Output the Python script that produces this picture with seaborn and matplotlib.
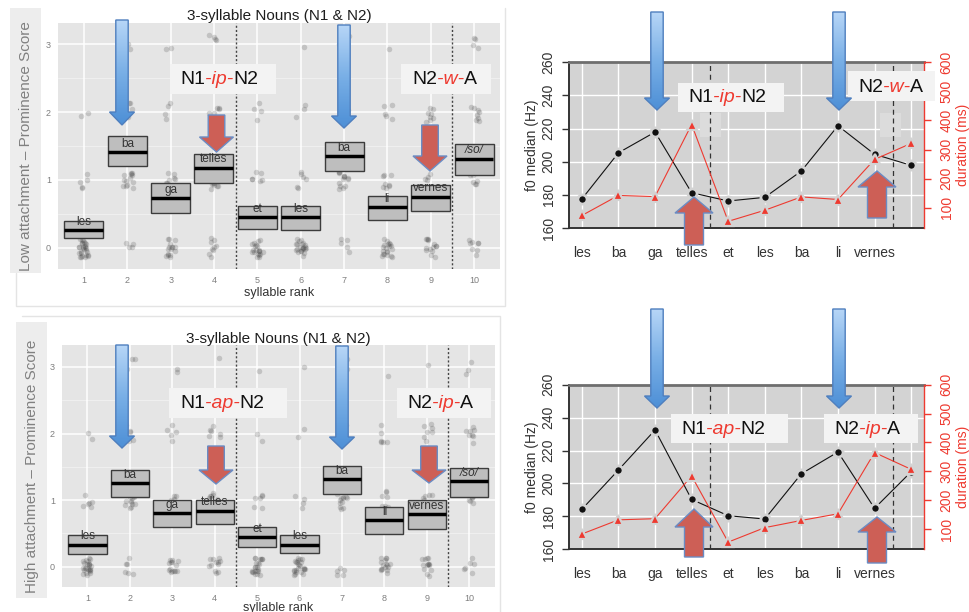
import numpy as np
import pandas as pd
import matplotlib
matplotlib.use("Agg")
import matplotlib.pyplot as plt
from matplotlib.patches import Polygon, Rectangle
from matplotlib.colors import LinearSegmentedColormap
from matplotlib import font_manager
import seaborn as sns

# ---------------- data ----------------
ranks = [1, 2, 3, 4, 5, 6, 7, 8, 9, 10]
syllables = ["les", "ba", "ga", "telles", "et", "les", "ba", "li", "vernes", "/so/"]
f0_labels = ["les", "ba", "ga", "telles", "et", "les", "ba", "li", "vernes", ""]

# prominence score crossbars (mean and interval), low attachment
low_mean = [0.26, 1.41, 0.73, 1.18, 0.45, 0.45, 1.35, 0.60, 0.75, 1.31]
low_lo = [0.14, 1.20, 0.52, 0.96, 0.28, 0.27, 1.13, 0.41, 0.55, 1.07]
low_hi = [0.40, 1.65, 0.96, 1.38, 0.61, 0.62, 1.56, 0.77, 0.92, 1.53]
# high attachment
high_mean = [0.33, 1.25, 0.80, 0.84, 0.44, 0.33, 1.31, 0.70, 0.79, 1.28]
high_lo = [0.19, 1.04, 0.59, 0.64, 0.29, 0.21, 1.09, 0.49, 0.57, 1.05]
high_hi = [0.47, 1.45, 1.00, 1.00, 0.60, 0.47, 1.52, 0.90, 1.00, 1.48]

# how many listeners gave score 0 / 1 / 2 / 3 for each syllable
low_n0 = [28, 4, 16, 9, 20, 22, 5, 20, 14, 8]
low_n1 = [5, 13, 8, 10, 6, 6, 14, 8, 6, 10]
low_n2 = [2, 8, 4, 7, 4, 3, 8, 5, 8, 8]
low_n3 = [0, 4, 2, 4, 0, 1, 4, 1, 0, 4]
high_n0 = [24, 6, 14, 12, 22, 24, 5, 16, 14, 6]
high_n1 = [6, 14, 8, 8, 6, 4, 14, 7, 6, 10]
high_n2 = [2, 6, 5, 6, 2, 2, 6, 6, 7, 8]
high_n3 = [0, 3, 2, 1, 1, 1, 4, 1, 1, 3]

# f0 median (Hz) and duration (ms)
low_f0 = [177.5, 205.4, 217.9, 181.3, 176.3, 178.5, 194.4, 221.7, 204.5, 197.8]
low_dur = [73, 142, 138, 386, 53, 91, 137, 128, 266, 321]
high_f0 = [184.3, 208.2, 232.5, 190.3, 180.4, 178.4, 205.9, 219.1, 184.9, 207.1]
high_dur = [83, 132, 136, 284, 55, 105, 130, 153, 365, 307]

# ---------------- style ----------------
sns.set_style("white")
plt.rcParams["font.family"] = ["Liberation Sans", "DejaVu Sans"]
names = {f.name for f in font_manager.fontManager.ttflist}
NARROW = "Liberation Sans Narrow" if "Liberation Sans Narrow" in names else "Liberation Sans"
RSIZE = 11 if NARROW.endswith("Narrow") else 10
RED = "#ee3a30"
np.random.seed(3)  # stable jitter

W, H = 970, 612
fig = plt.figure(figsize=(9.7, 6.12), dpi=100)
fig.patch.set_facecolor("white")


def px_axes(l, t, r, b, **kw):
    return fig.add_axes([l / W, 1 - b / H, (r - l) / W, (b - t) / H], **kw)


def score_frame(n0, n1, n2, n3):
    parts = []
    for score, counts in enumerate([n0, n1, n2, n3]):
        parts.append(pd.DataFrame({"rank": np.repeat(ranks, counts), "score": score}))
    return pd.concat(parts, ignore_index=True)


# background layer (label strips, card borders)
bg = fig.add_axes([0, 0, 1, 1], zorder=-1)
bg.set_xlim(0, W)
bg.set_ylim(H, 0)
bg.axis("off")
bg.add_patch(Rectangle((10, 8), 31, 265, fc="#ededed", ec="none"))
bg.add_patch(Rectangle((16, 322), 31, 276, fc="#ededed", ec="none"))
bg.plot([16, 16, 505, 505], [273, 306, 306, 8], color="#e4e4e4", lw=1)
bg.plot([22, 500, 500], [316, 316, 612], color="#e4e4e4", lw=1)


def prominence_panel(ax, df, lo, mean, hi, ylim, ylabel, label_x, title_y, xlab_y):
    ax.set_facecolor("#e5e5e5")
    for y in [0.5, 1.5, 2.5]:
        ax.axhline(y, color="#f2f2f2", lw=0.6, zorder=0.3)
    # jittered listener scores (display jitter only, like geom_jitter)
    sns.regplot(data=df, x="rank", y="score", fit_reg=False, x_jitter=0.13, y_jitter=0.14,
                scatter_kws=dict(s=16, alpha=0.2, color="#3a3a3a", linewidths=0, zorder=2),
                ax=ax)
    lo, mean, hi = np.array(lo), np.array(mean), np.array(hi)
    x = np.array(ranks)
    ax.bar(x, hi - lo, bottom=lo, width=0.9, color="#bebebe", edgecolor="#3c3c3c",
           lw=1, zorder=3)
    ax.hlines(mean, x - 0.45, x + 0.45, color="black", lw=2.5, zorder=4)
    for r, m, s in zip(ranks, mean, syllables):
        ax.text(r, m + 0.125, s, ha="center", va="center", fontsize=8.5, color="#333333",
                style="italic" if s.startswith("/") else "normal", zorder=5)
    for xv in [4.5, 9.5]:
        ax.axvline(xv, color="#444444", lw=1, ls=(0, (1.5, 1.5)), zorder=4)
    ax.set_xlim(0.4, 10.6)
    ax.set_ylim(*ylim)
    ax.set_xticks(ranks, [str(r) for r in ranks])
    ax.set_yticks([0, 1, 2, 3])
    ax.grid(True, color="white", lw=1.1)
    ax.set_axisbelow(True)
    for s in ax.spines.values():
        s.set_visible(False)
    ax.tick_params(length=3, width=0.8, color="#8a8a8a", labelcolor="#7f7f7f",
                   labelsize=6.5, pad=2)
    ax.set_ylabel(ylabel, fontsize=11, color="#808080")
    ax.yaxis.set_label_coords(label_x, 0.5)
    ax.yaxis.label.set_va("center")
    ax.set_xlabel("syllable rank", fontsize=9, color="#333333")
    ax.xaxis.set_label_coords(0.5, xlab_y)
    ax.xaxis.label.set_va("center")
    ax.text(0.5, title_y, "3-syllable Nouns (N1 & N2)", transform=ax.transAxes,
            ha="center", va="center", fontsize=11, color="#1e1e1e")


def f0_panel(ax, f0, dur):
    ax.set_facecolor("#d3d3d3")
    sns.lineplot(x=ranks, y=f0, ax=ax, color="#111111", lw=0.8, marker="o",
                 markersize=6.6, markeredgecolor="#d3d3d3", markeredgewidth=2.0, zorder=4)
    for xv in [4.5, 9.5]:
        ax.axvline(xv, color="#333333", lw=0.9, ls=(0, (4, 3)), zorder=2)
    ax.set_xlim(0.64, 10.36)
    ax.set_ylim(160, 260)
    ax.set_xticks(ranks, f0_labels)
    ax.set_yticks([160, 180, 200, 220, 240, 260])
    ax.grid(True, color="white", lw=1)
    ax.set_axisbelow(True)
    ax.tick_params(axis="x", length=5, width=1, color="#333333", pad=8,
                   labelsize=RSIZE, labelcolor="#333333")
    ax.tick_params(axis="y", length=5, width=1, color="#333333", pad=4.5,
                   labelsize=RSIZE, labelcolor="#333333", labelrotation=90)
    for lbl in ax.get_xticklabels() + ax.get_yticklabels():
        lbl.set_fontfamily(NARROW)
    for lbl in ax.get_yticklabels():
        lbl.set_va("center")
    for s in ["left", "bottom"]:
        ax.spines[s].set(color="#333333", lw=1.4)
    ax.spines["top"].set(color="#6e6e6e", lw=2)
    ax.spines["right"].set_visible(False)
    ax.set_ylabel("f0 median (Hz)", fontsize=RSIZE, color="#333333", family=NARROW)
    ax.yaxis.set_label_coords(-0.104, 0.5)
    ax.yaxis.label.set_va("center")

    ax2 = ax.twinx()
    sns.lineplot(x=ranks, y=dur, ax=ax2, color=RED, lw=0.8, marker="^",
                 markersize=7.6, markeredgecolor="#d3d3d3", markeredgewidth=1.6, zorder=4)
    ax2.set_ylim(30, 600)
    ax2.set_yticks([100, 200, 300, 400, 500, 600])
    ax2.grid(False)
    for s in ["left", "top", "bottom"]:
        ax2.spines[s].set_visible(False)
    ax2.spines["right"].set(visible=True, color=RED, lw=1)
    ax2.tick_params(axis="y", length=5, width=1, color=RED, labelcolor=RED, pad=6,
                    labelsize=RSIZE, labelrotation=90)
    for lbl in ax2.get_yticklabels():
        lbl.set_fontfamily(NARROW)
        lbl.set_va("center")
    ax2.set_ylabel("duration (ms)", fontsize=RSIZE, color=RED, family=NARROW, rotation=90)
    ax2.yaxis.set_label_coords(1.108, 0.5)
    ax2.yaxis.label.set_va("center")
    return ax2


ax_tl = px_axes(58, 23, 500, 269)
prominence_panel(ax_tl, score_frame(low_n0, low_n1, low_n2, low_n3),
                 low_lo, low_mean, low_hi, (-0.31, 3.31),
                 "Low attachment \u2013 Prominence Score", -0.0724, 1.028, -0.096)

ax_bl = px_axes(62, 345, 494.7, 586.7)
prominence_panel(ax_bl, score_frame(high_n0, high_n1, high_n2, high_n3),
                 high_lo, high_mean, high_hi, (-0.30, 3.33),
                 "High attachment \u2013 Prominence Score", -0.070, 1.025, -0.087)

ax_tr = px_axes(568.7, 62.3, 924.3, 228)
f0_panel(ax_tr, low_f0, low_dur)
ax_br = px_axes(568.7, 384.7, 924.3, 549.3)
f0_panel(ax_br, high_f0, high_dur)

# ---------------- overlay: arrows and boundary labels ----------------
ov = fig.add_axes([0, 0, 1, 1], zorder=10)
ov.patch.set_alpha(0)

# pale patches left in the f0 plot
for x0 in [700, 880]:
    ax_tr.add_patch(Rectangle((x0, 113), 21, 24, transform=ov.transData,
                              fc="#dcdcdc", ec="none", zorder=1, clip_on=False))

blue_cmap = LinearSegmentedColormap.from_list("arrow", ["#b7d6f7", "#79afe6", "#4d8fd6"])
grad = np.linspace(0, 1, 256)[:, None]


def blue_down(cx, top, head_y, tip, sw=6.2, hw=12.5):
    pts = [(cx - sw, top), (cx + sw, top), (cx + sw, head_y), (cx + hw, head_y),
           (cx, tip), (cx - hw, head_y), (cx - sw, head_y)]
    poly = Polygon(pts, closed=True, fc="none", ec="#4f7fbe", lw=1, zorder=8)
    ov.add_patch(poly)
    im = ov.imshow(grad, cmap=blue_cmap, extent=(cx - hw, cx + hw, tip, top),
                   aspect="auto", origin="upper", zorder=7)
    im.set_clip_path(poly)


def red_arrow(cx, a, head_y, tip, sw, hw):
    pts = [(cx - sw, a), (cx + sw, a), (cx + sw, head_y), (cx + hw, head_y),
           (cx, tip), (cx - hw, head_y), (cx - sw, head_y)]
    ov.add_patch(Polygon(pts, closed=True, fc="#cd5f56", ec="#6a8cc4", lw=1, zorder=8))


def label_box(x0, y0, x1, y1, tx, ty, parts, size=14):
    ov.add_patch(Rectangle((x0, y0), x1 - x0, y1 - y0, fc="#f3f3f3", ec="none", zorder=5))
    r = fig.canvas.get_renderer()
    for txt, color, style in parts:
        t = ov.text(tx, ty, txt, color=color, style=style, fontsize=size,
                    ha="left", va="center", zorder=6)
        tx += t.get_window_extent(renderer=r).width


ov.set_xlim(0, W)
ov.set_ylim(H, 0)

for cx, top, hy, tip in [(122, 20, 112, 125), (344, 25, 116, 128),
                         (122, 345, 436, 448), (342, 346, 437, 449),
                         (657, 12, 98, 110), (839, 12, 98, 110),
                         (657, 309, 396, 408), (839, 309, 396, 408)]:
    blue_down(cx, top, hy, tip)

# red arrows: pointing down on the left, up on the right
for cx, top, hy, tip in [(216.5, 115, 137, 152), (430, 125, 156, 171),
                         (216, 446, 470, 484), (429, 446, 470, 483)]:
    red_arrow(cx, top, hy, tip, 8.3, 17)
for cx, bottom, hy, tip in [(694, 245, 213, 197), (877, 218, 187, 171),
                            (694, 557, 527, 509), (877, 563, 532, 517)]:
    red_arrow(cx, bottom, hy, tip, 9.5, 19)

ink = "#111111"
label_box(170, 64, 276, 94, 180, 80, [("N1", ink, "normal"), ("-ip-", RED, "italic"), ("N2", ink, "normal")])
label_box(401, 64, 491, 94, 412, 80, [("N2", ink, "normal"), ("-w-", RED, "italic"), ("A", ink, "normal")])
label_box(678, 83, 784, 112, 688, 98, [("N1", ink, "normal"), ("-ip-", RED, "italic"), ("N2", ink, "normal")])
label_box(848, 71, 935, 101, 858, 87, [("N2", ink, "normal"), ("-w-", RED, "italic"), ("A", ink, "normal")])
label_box(169, 388, 287, 418, 180, 404, [("N1", ink, "normal"), ("-ap-", RED, "italic"), ("N2", ink, "normal")])
label_box(397, 388, 491, 418, 407, 404, [("N2", ink, "normal"), ("-ip-", RED, "italic"), ("A", ink, "normal")])
label_box(671, 414, 788, 443, 681, 429, [("N1", ink, "normal"), ("-ap-", RED, "italic"), ("N2", ink, "normal")])
label_box(824, 414, 918, 443, 834, 429, [("N2", ink, "normal"), ("-ip-", RED, "italic"), ("A", ink, "normal")])

ov.set_xlim(0, W)
ov.set_ylim(H, 0)
ov.axis("off")

fig.savefig("out.png", dpi=100)
